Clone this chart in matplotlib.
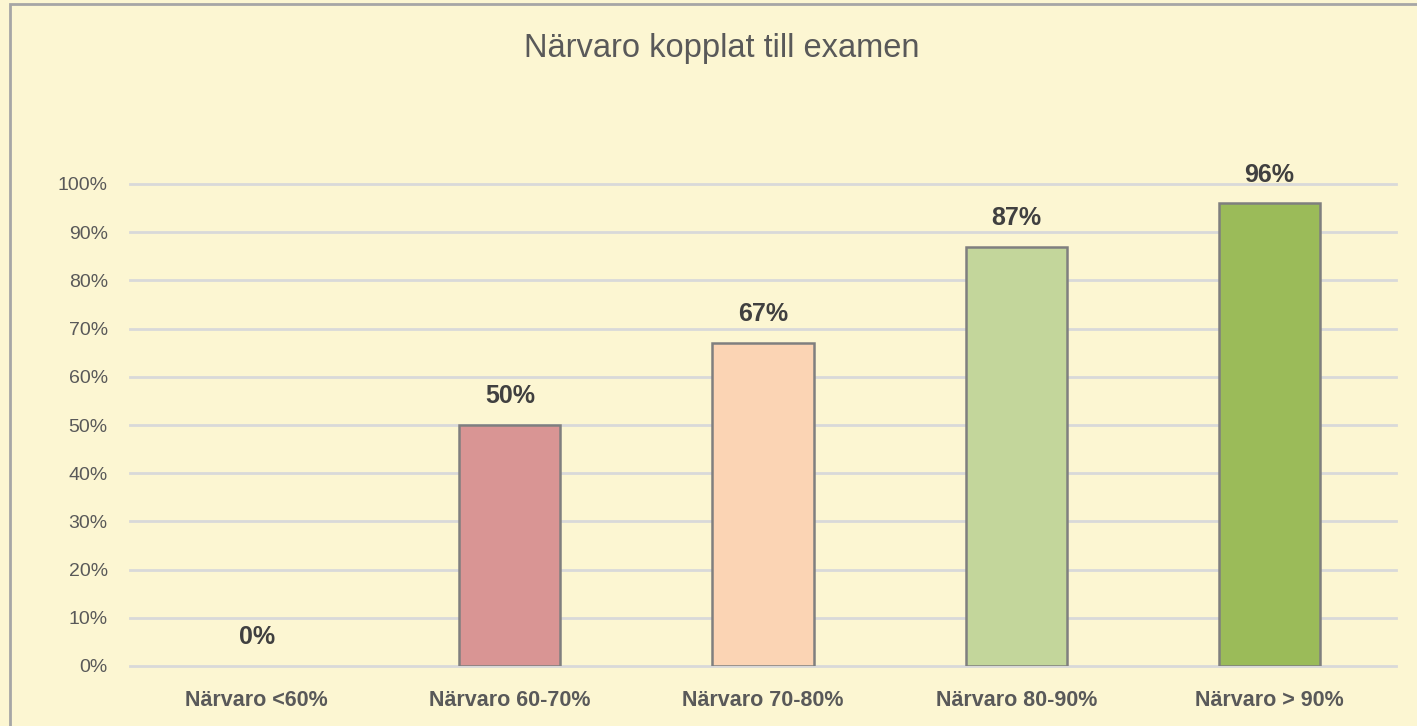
import matplotlib
matplotlib.use("Agg")
import matplotlib.pyplot as plt
from matplotlib.patches import Rectangle
from matplotlib.ticker import MultipleLocator, PercentFormatter

categories = ["Närvaro <60%", "Närvaro 60-70%", "Närvaro 70-80%", "Närvaro 80-90%", "Närvaro > 90%"]
values = [0, 50, 67, 87, 96]
bar_colors = ["#D99594", "#D99594", "#FBD4B4", "#C3D69B", "#9BBB59"]
title = "Närvaro kopplat till examen"

BG = "#FCF6D2"
plt.rcParams["font.family"] = ["Liberation Sans", "DejaVu Sans"]

fig = plt.figure(figsize=(14.17, 7.26), dpi=100, facecolor=BG)
W, H = 1417, 726
ax = fig.add_axes([130 / W, 1 - 666 / H, 1266 / W, (666 - 184) / H])
ax.set_facecolor(BG)

x = list(range(len(categories)))
bars = ax.bar(x, values, width=0.40, color=bar_colors, edgecolor="#7F7F7F", linewidth=1.8, zorder=3)
for b, v in zip(bars, values):
    if v == 0:
        b.set_visible(False)
    ax.annotate(f"{v}%", (b.get_x() + b.get_width() / 2, v), xytext=(0, 12),
                textcoords="offset points", ha="center", va="bottom",
                fontsize=18, fontweight="bold", color="#404040")

ax.set_xlim(-0.5, 4.5)
ax.set_ylim(0, 100)
ax.yaxis.set_major_locator(MultipleLocator(10))
ax.yaxis.set_major_formatter(PercentFormatter(decimals=0))
ax.set_xticks(x)
ax.set_xticklabels(categories, fontsize=15.5, fontweight="bold", color="#595959")
ax.tick_params(axis="y", labelsize=14, labelcolor="#595959", length=0, pad=16)
ax.tick_params(axis="x", length=0, pad=17)
ax.grid(axis="y", color="#D9D9D9", linewidth=2, zorder=0)
for gl in ax.get_ygridlines():
    gl.set_clip_on(False)
for s in ax.spines.values():
    s.set_visible(False)

fig.text(722 / W, 1 - 48 / H, title, ha="center", va="center", fontsize=23.5, color="#595959")

fig.patches.append(Rectangle((10 / W, -0.1), 1.2, 1 - 4 / H + 0.1, transform=fig.transFigure,
                             fill=False, edgecolor="#A6A6A6", linewidth=2))

fig.savefig("out.png", dpi=100, facecolor=BG)
